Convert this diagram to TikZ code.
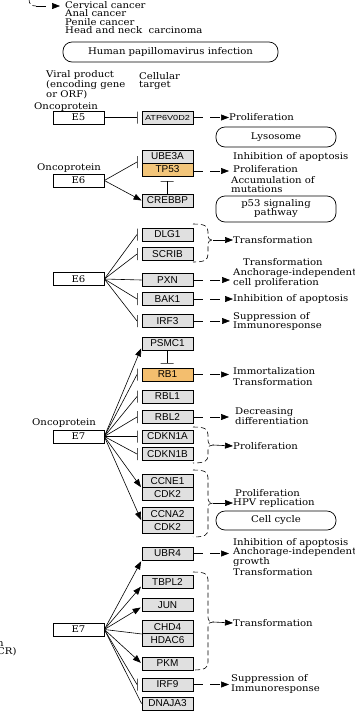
\documentclass[tikz,border=0pt]{standalone}
\usepackage{fontspec}
\setmainfont{DejaVu Serif}[FakeStretch=1.1]
\setsansfont{Liberation Sans}
\newfontfamily\kwidesans{Liberation Sans}[FakeStretch=1.25]
\usetikzlibrary{arrows.meta,calc}
\definecolor{genegray}{HTML}{E0E0E0}
\definecolor{hotorange}{HTML}{F2C57A}
\newcommand\klfont{\fontsize{9.2}{8.6}\selectfont}
\newcommand\kgfont{\sffamily\fontsize{10}{10}\selectfont}
\newcommand\ksfont{\kwidesans\fontsize{7.3}{7.3}\selectfont}
\newcommand\kbrace[5]{%
 \draw[brc] ({#1-15},#2) .. controls ({#1-3},#2) and (#1,{#2+2}) .. (#1,{#2+8}) -- (#1,{#3-5}) .. controls (#1,{#3-1}) and ({#1+2},#3) .. ({#1+5},#3) .. controls ({#1+2},#3) and (#1,{#3+1}) .. (#1,{#3+5}) -- (#1,{#4-8}) .. controls (#1,{#4-2}) and ({#1-3},#4) .. ({#1-15},#4);
 \coordinate (#5) at ({#1+5},#3);}
\tikzset{
 gene/.style={draw, line width=0.9pt, fill=genegray, minimum width=51pt, minimum height=13pt, inner sep=0pt, font=\kgfont},
 hot/.style={gene, fill=hotorange},
 viral/.style={draw, line width=0.7pt, fill=white, minimum width=51pt, minimum height=13pt, inner sep=0pt, font=\klfont},
 pathway/.style={draw, line width=0.7pt, rounded corners=9pt, minimum width=120pt, minimum height=20pt, inner sep=0pt, font=\klfont, align=center},
 lbl/.style={anchor=west, inner sep=0pt, font=\klfont, align=left},
 act/.style={-{Triangle[length=8pt,width=6pt]}, line width=0.6pt},
 rel/.style={line width=0.6pt},
 dact/.style={act, dash pattern=on 10pt off 7pt},
 vbar/.style={draw, line width=0.8pt, minimum width=0pt, minimum height=12pt, inner sep=0pt, outer sep=0pt},
 hbar/.style={draw, line width=0.8pt, minimum width=13pt, minimum height=0pt, inner sep=0pt, outer sep=0pt},
 brc/.style={line width=0.6pt, dash pattern=on 5pt off 3pt},
}
\begin{document}
\begin{tikzpicture}[x=1pt,y=-1pt]
\useasboundingbox (0,0) rectangle (355,713);
% top
\draw[brc] (29,-1) .. controls (29,4) and (31,6) .. (36,6) coordinate (ctop);
\node[lbl] (cancers) at (65,17.5) {Cervical cancer\\Anal cancer\\Penile cancer\\Head and neck\ \ carcinoma};
\coordinate (cend) at (60,6);
\draw[dact] (ctop) -- (cend);
\node[pathway, minimum width=215pt] (hpv) at (170.5,52) {Human papillomavirus infection};
\node[lbl] (vp) at (46,85) {Viral product\\(encoding gene\\or ORF)};
\node[lbl] (ct) at (139,81) {Cellular\\target};
% E5
\node[lbl] (onc1) at (34,107) {Oncoprotein};
\node[viral] (E5) at (78.5,117.5) {E5};
\node[gene, font=\ksfont] (ATP) at (167.5,117.5) {ATP6V0D2};
\node[vbar] (bATP) at (137,117.5) {};
\draw[rel] (E5.east) -- (bATP.center);
\node[lbl] (l1) at (229,117.5) {Proliferation};
\draw[dact] (ATP.east) -- (l1.west);
\node[pathway] (lyso) at (276,137) {Lysosome};
% E6 first
\node[lbl] (onc2) at (37,168) {Oncoprotein};
\node[viral] (E6a) at (78.5,180.5) {E6};
\node[gene] (UBE3A) at (167.5,156.5) {UBE3A};
\node[hot] (TP53) at (167.5,169.5) {TP53};
\node[gene] (CREBBP) at (167.5,200.5) {CREBBP};
\node[vbar] (bUBE) at (137,162) {};
\draw[rel] (E6a.east) -- (bUBE.center);
\draw[act] (E6a.east) -- (CREBBP.west);
\node[hbar] (bTP) at (167,181) {};
\draw[rel] (CREBBP.north -| bTP) -- (bTP.center);
\coordinate (tpend) at (229,171);
\draw[dact] (TP53.east |- tpend) -- (tpend);
\node[lbl] (l2a) at (233,157) {Inhibition of apoptosis};
\node[lbl] (l2b) at (233,169) {Proliferation};
\node[lbl] (l2c) at (231,184.5) {Accumulation of\\mutations};
\node[pathway, minimum height=26pt] (p53) at (276,209) {p53 signaling\\[-1pt]pathway};
% E6 second
\node[viral] (E6b) at (78.5,279) {E6};
\node[gene] (DLG1) at (167.5,234.5) {DLG1};
\node[gene] (SCRIB) at (167.5,254) {SCRIB};
\node[gene] (PXN) at (167.5,280) {PXN};
\node[gene] (BAK1) at (167.5,299) {BAK1};
\node[gene] (IRF3) at (167.5,321) {IRF3};
\node[vbar] (bDLG) at (137,234.5) {};
\node[vbar] (bSCR) at (137,254) {};
\node[vbar] (bBAK) at (137,299) {};
\node[vbar] (bIRF3) at (137,321) {};
\draw[rel] (E6b.east) -- (bDLG.center);
\draw[rel] (E6b.east) -- (bSCR.center);
\draw[rel] (E6b.east) -- (PXN.west);
\draw[rel] (E6b.east) -- (bBAK.center);
\draw[rel] (E6b.east) -- (bIRF3.center);
\kbrace{208}{224}{240}{262}{tipA}
\node[lbl] (l3) at (233,240) {Transformation};
\draw[act] (tipA) -- (l3.west);
\node[lbl] (l4a) at (243,262.5) {Transformation};
\node[lbl] (l4b) at (233,277.5) {Anchorage-independent\\cell proliferation};
\coordinate (pxend) at (230,280);
\draw[dact] (PXN.east) -- (pxend);
\node[lbl] (l5) at (233,299) {Inhibition of apoptosis};
\draw[dact] (BAK1.east) -- (l5.west);
\node[lbl] (l6) at (233,321.5) {Suppression of\\Immunoresponse};
\coordinate (irf3end) at (230,321);
\draw[dact] (IRF3.east) -- (irf3end);
% E7 first
\node[lbl] (onc3) at (32,423) {Oncoprotein};
\node[viral] (E7a) at (78.5,436.5) {E7};
\node[gene] (PSMC1) at (167.5,343.5) {PSMC1};
\node[hot, fill=hotorange!90!orange] (RB1) at (167.5,374.5) {RB1};
\node[gene] (RBL1) at (167.5,396.5) {RBL1};
\node[gene] (RBL2) at (167.5,417) {RBL2};
\node[gene] (CDKN1A) at (167.5,436.5) {CDKN1A};
\node[gene] (CDKN1B) at (167.5,454) {CDKN1B};
\node[gene] (CCNE1) at (167.5,481) {CCNE1};
\node[gene] (CDK2a) at (167.5,494) {CDK2};
\node[gene] (CCNA2) at (167.5,514) {CCNA2};
\node[gene] (CDK2b) at (167.5,527) {CDK2};
\node[hbar] (bRB) at (167,363) {};
\draw[rel] (PSMC1.south -| bRB) -- (bRB.center);
\draw[act, shorten >=1pt] (E7a.east) -- ($(PSMC1.south west)+(0,-3)$);
\node[vbar] (bRB1) at (137,374.5) {};
\node[vbar] (bRBL1) at (137,396.5) {};
\node[vbar] (bRBL2) at (137,417) {};
\node[vbar] (bCA) at (137,436.5) {};
\node[vbar] (bCB) at (137,454) {};
\draw[rel] (E7a.east) -- (bRB1.center);
\draw[rel] (E7a.east) -- (bRBL1.center);
\draw[rel] (E7a.east) -- (bRBL2.center);
\draw[rel] (E7a.east) -- (bCA.center);
\draw[rel] (E7a.east) -- (bCB.center);
\draw[act, shorten >=1pt] (E7a.east) -- (CCNE1.south west);
\draw[act, shorten >=1pt] (E7a.east) -- (CCNA2.south west);
\node[lbl] (l7) at (233,376.5) {Immortalization\\[2.5pt]Transformation};
\coordinate (rb1end) at (229,374.5);
\draw[dact] (RB1.east) -- (rb1end);
\node[lbl] (l8) at (235,416) {Decreasing\\differentiation};
\coordinate (rbl2end) at (229,417);
\draw[dact] (RBL2.east) -- (rbl2end);
\kbrace{208}{427}{445}{463}{tipB}
\node[lbl] (l9) at (233,446) {Proliferation};
\draw[act] (tipB) -- (l9.west);
\kbrace{208}{470}{503}{537}{tipC}
\node[lbl] (l10a) at (235,493) {Proliferation};
\node[lbl] (l10b) at (233,503) {HPV replication};
\draw[act] (tipC) -- (l10b.west);
\node[pathway, minimum height=19pt] (cc) at (276,520.5) {Cell cycle};
% E7 second
\node[viral] (E7b) at (78.5,629.5) {E7};
\node[gene] (UBR4) at (167.5,553.5) {UBR4};
\node[gene] (TBPL2) at (167.5,582) {TBPL2};
\node[gene] (JUN) at (167.5,605) {JUN};
\node[gene] (CHD4) at (167.5,627) {CHD4};
\node[gene] (HDAC6) at (167.5,640) {HDAC6};
\node[gene] (PKM) at (167.5,663.5) {PKM};
\node[gene] (IRF9) at (167.5,684.5) {IRF9};
\node[gene] (DNAJA3) at (167.5,703.5) {DNAJA3};
\draw[act, shorten >=1pt] (E7b.east) -- (UBR4.south west);
\draw[act, shorten >=1pt] (E7b.east) -- ($(TBPL2.south west)+(0,-3)$);
\draw[act, shorten >=1pt] (E7b.east) -- ($(JUN.west)+(0,2)$);
\draw[rel] (E7b.east) -- (CHD4.south west);
\draw[act, shorten >=1pt] (E7b.east) -- (PKM.west);
\node[vbar] (bIRF9) at (137,684.5) {};
\draw[rel] (E7b.east) -- (bIRF9.center);
\draw[rel] (E7b.east) -- (DNAJA3.west);
\node[lbl] (l11) at (233,552.5) {Inhibition of apoptosis\\Anchorage-independent\\growth};
\coordinate (ubrend) at (229,553.5);
\draw[dact] (UBR4.east) -- (ubrend);
\node[lbl] (l12) at (233,572) {Transformation};
\kbrace{208}{572}{622}{670}{tipD}
\node[lbl] (l13) at (233,623) {Transformation};
\draw[act] (tipD) -- (l13.west);
\node[lbl] (l14) at (231,684) {Suppression of\\Immunoresponse};
\coordinate (irf9end) at (229,684.5);
\draw[dact] (IRF9.east) -- (irf9end);
% cut-off texts at the left edge
\node[lbl] (cut1) at (-3,644) {n};
\node[lbl] (cut2) at (-3,652) {CR)};
\end{tikzpicture}
\end{document}
